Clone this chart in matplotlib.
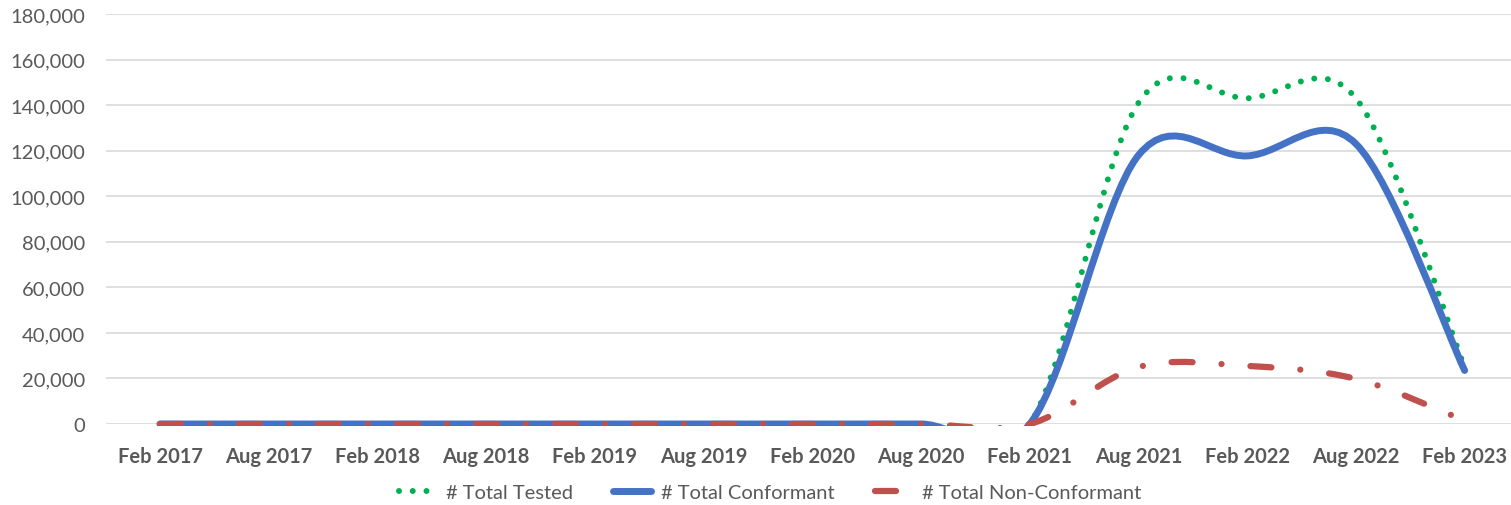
import matplotlib
matplotlib.use('Agg')
import matplotlib.pyplot as plt
from matplotlib.path import Path
from matplotlib.patches import PathPatch, Rectangle
from matplotlib.lines import Line2D
from matplotlib.ticker import FuncFormatter
import numpy as np

plt.rcParams['font.family'] = ['Lato', 'DejaVu Sans']

categories = ['Feb 2017', 'Aug 2017', 'Feb 2018', 'Aug 2018', 'Feb 2019',
              'Aug 2019', 'Feb 2020', 'Aug 2020', 'Feb 2021', 'Aug 2021',
              'Feb 2022', 'Aug 2022', 'Feb 2023']
total_tested = [0, 0, 0, 0, 0, 0, 0, 0, 0, 141000, 143000, 143000, 25000]
total_conformant = [0, 0, 0, 0, 0, 0, 0, 0, 0, 118000, 117700, 123000, 23500]
total_nonconformant = [0, 0, 0, 0, 0, 0, 0, 0, 0, 25000, 25500, 19800, 1500]
series_names = ['# Total Tested', '# Total Conformant', '# Total Non-Conformant']
y_ticks = [0, 20000, 40000, 60000, 80000, 100000, 120000, 140000, 160000, 180000]

TEXT = '#595959'
GREEN = '#00B050'
BLUE = '#4472C4'
RED = '#C0504D'


def smooth_path(xs, ys):
    """Excel-like smoothed line: cubic Bezier segments through the data points."""
    pts = np.column_stack([xs, ys]).astype(float)
    n = len(pts)
    verts = [pts[0]]
    codes = [Path.MOVETO]
    for i in range(n - 1):
        p_prev = pts[i - 1] if i > 0 else pts[i]
        p_next2 = pts[i + 2] if i + 2 < n else pts[i + 1]
        c1 = pts[i] + (pts[i + 1] - p_prev) / 6.0
        c2 = pts[i + 1] - (p_next2 - pts[i]) / 6.0
        verts += [c1, c2, pts[i + 1]]
        codes += [Path.CURVE4] * 3
    return Path(verts, codes)


W, H = 1511, 506
fig = plt.figure(figsize=(W / 100, H / 100), dpi=100)
left_px, right_px, top_px, bottom_px = 105.6, 1519.0, 15.0, 425.0
ax_h = bottom_px - top_px
ax = fig.add_axes([left_px / W, (H - bottom_px) / H,
                   (right_px - left_px) / W, ax_h / H])

x = np.arange(len(categories))

green_style = (0, (0.001, 2.3))
red_style = (0, (3.36, 4.64, 0.001, 4.64))

# plot-area clip, slightly below the zero line like the original
margin = 2.0 / ax_h
clip_rect = Rectangle((0, -margin), 1, 1 + margin, transform=ax.transAxes)

p_tested = PathPatch(smooth_path(x, total_tested), fill=False, edgecolor=GREEN,
                     lw=4.3, linestyle=green_style, capstyle='round',
                     joinstyle='round', zorder=2)
p_conf = PathPatch(smooth_path(x, total_conformant), fill=False, edgecolor=BLUE,
                   lw=5.0, linestyle='-', capstyle='round', joinstyle='round',
                   zorder=3)
p_nonconf = PathPatch(smooth_path(x, total_nonconformant), fill=False,
                      edgecolor=RED, lw=4.5, linestyle=red_style,
                      capstyle='round', joinstyle='round', zorder=4)
for p in (p_tested, p_conf, p_nonconf):
    ax.add_patch(p)
    p.set_clip_path(clip_rect)

ax.set_xlim(-0.5, len(categories) - 0.5)
ax.set_ylim(0, 180000)
ax.set_xticks(x)
ax.set_xticklabels(categories, fontsize=14.5, fontweight='bold', color=TEXT)
ax.set_yticks(y_ticks)
ax.yaxis.set_major_formatter(FuncFormatter(lambda v, p: f'{int(v):,}'))
ax.tick_params(axis='y', length=0, pad=14.5, labelsize=14.5, labelcolor=TEXT)
ax.tick_params(axis='x', length=0, pad=16)
for s in ax.spines.values():
    s.set_visible(False)
ax.yaxis.grid(True, color='#d9d9d9', lw=1.2)
ax.xaxis.grid(False)
ax.set_axisbelow(True)

handles = [
    Line2D([], [], color=GREEN, lw=4.3, linestyle=green_style, dash_capstyle='round'),
    Line2D([], [], color=BLUE, lw=5.0, solid_capstyle='round'),
    Line2D([], [], color=RED, lw=4.5, linestyle=red_style, dash_capstyle='round'),
]
leg = fig.legend(handles, series_names, loc='center',
                 bbox_to_anchor=(770 / W, 1 - 493 / H), ncol=3, frameon=False,
                 fontsize=14.5, handlelength=1.85, handletextpad=0.5,
                 columnspacing=2.0, borderpad=0.2)
for t in leg.get_texts():
    t.set_color(TEXT)

fig.savefig('out.png', dpi=100)
